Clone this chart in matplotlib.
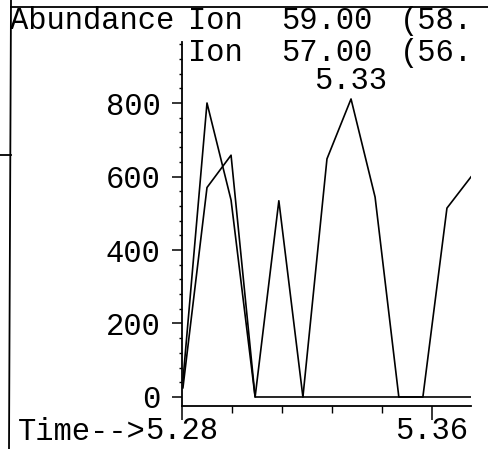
import matplotlib
matplotlib.use("Agg")
import matplotlib.pyplot as plt
from matplotlib.lines import Line2D
from matplotlib.ticker import MultipleLocator

plt.rcParams["font.family"] = ["Liberation Mono", "DejaVu Sans Mono"]
FS = 22

# scan times (min) and abundances
times = [5.2803, 5.2880, 5.2957, 5.3034, 5.3110, 5.3187, 5.3264,
         5.3341, 5.3418, 5.3494, 5.3571, 5.3648, 5.3725]
ion59 = [45, 800, 536, 0, 534, 0, 0, 0, 0, 0, 0, 0, 0]
ion57 = [25, 570, 658, 0, 0, 0, 648, 811, 544, 0, 0, 514, 599]

y_ticks = [0, 200, 400, 600, 800]
x_ticks = [5.28, 5.36]
x_labels = ["5.28", "5.36"]
peak_label = "5.33"

W, H = 488, 449
fig = plt.figure(figsize=(W / 100, H / 100), dpi=100)
ax = fig.add_axes([182 / W, 1 - 406 / H, (471 - 182) / W, (406 - 42) / H])

ax.plot(times, ion59, color="black", lw=1.2)
ax.plot(times, ion57, color="black", lw=1.2)

ax.set_xlim(5.28, 5.3725)
ax.set_ylim(-24.5, 966)
ax.spines["top"].set_visible(False)
ax.spines["right"].set_visible(False)
ax.spines["left"].set_linewidth(1.3)
ax.spines["bottom"].set_linewidth(1.3)

ax.set_yticks(y_ticks, [str(v) for v in y_ticks])
ax.yaxis.set_minor_locator(MultipleLocator(40))
ax.set_xticks(x_ticks, x_labels)
ax.xaxis.set_minor_locator(MultipleLocator(0.016))

ax.tick_params(axis="y", which="major", length=7, width=1.1, pad=8.5,
               labelsize=FS)
ax.tick_params(axis="y", which="minor", length=2.5, width=1)
ax.tick_params(axis="x", which="major", length=10, width=1.1, pad=-2.5,
               labelsize=FS)
ax.tick_params(axis="x", which="minor", length=5, width=1)


def px_text(x, y, s, **kw):
    fig.text(x / W, 1 - y / H, s, va="baseline", fontsize=FS, **kw)


# header lines
px_text(10, 29, "Abundance")
px_text(188, 29, "Ion")
px_text(281, 29, "59.00")
px_text(400, 29, "(58.")
px_text(188, 61, "Ion")
px_text(281, 61, "57.00")
px_text(400, 61, "(56.")
px_text(351, 89, peak_label, ha="center")
px_text(146, 440, "Time-->", ha="right")

# frame lines from the printout
fig.add_artist(Line2D([11 / W, 9 / W], [1, 0], color="black", lw=1.3))
fig.add_artist(Line2D([11 / W, 1], [1 - 7 / H] * 2, color="black", lw=1.3))
fig.add_artist(Line2D([0, 11 / W], [1 - 155 / H] * 2, color="black", lw=1.3))

fig.savefig("out.png", dpi=100)
